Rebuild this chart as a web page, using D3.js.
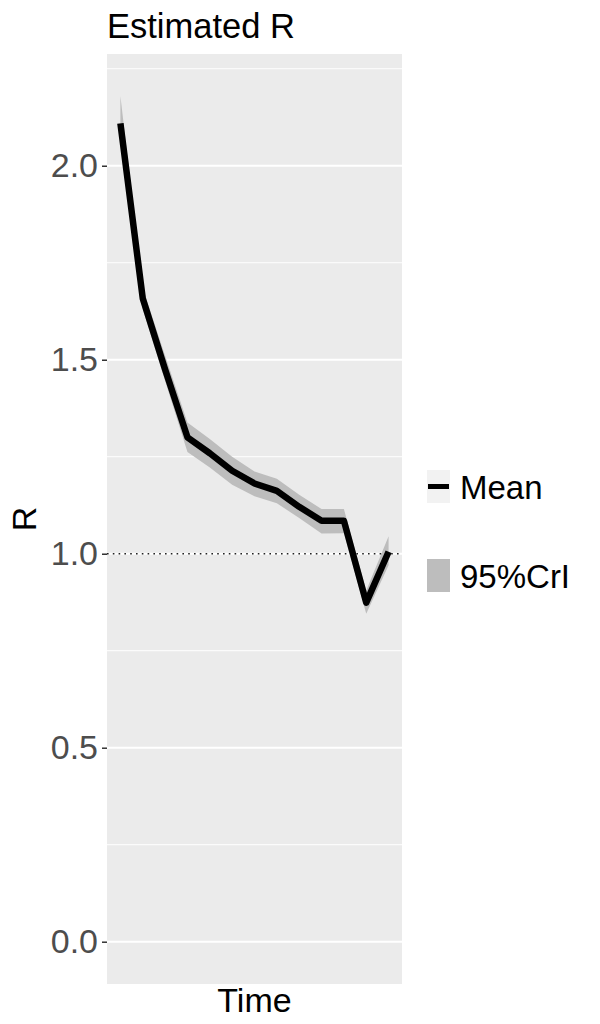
<!DOCTYPE html>
<html><head><meta charset="utf-8">
<script src="https://cdn.jsdelivr.net/npm/d3@7"></script>
<style>body{margin:0;background:#fff}</style>
</head><body>
<script>
const timeIndex = [0,1,2,3,4,5,6,7,8,9,10,11,12];
const meanR  = [2.109, 1.658, 1.475, 1.300, 1.259, 1.214, 1.181, 1.162, 1.121, 1.085, 1.085, 0.874, 1.005];
const lowerR = [2.060, 1.630, 1.445, 1.262, 1.222, 1.178, 1.148, 1.130, 1.092, 1.052, 1.053, 0.845, 0.970];
const upperR = [2.180, 1.685, 1.510, 1.338, 1.296, 1.250, 1.212, 1.193, 1.152, 1.115, 1.115, 0.905, 1.045];
const majorTicks = [0, 0.5, 1.0, 1.5, 2.0];
const minorTicks = [0.25, 0.75, 1.25, 1.75, 2.25];
const legendLabels = ["Mean", "95%CrI"];

const W = 600, H = 1024;
const panel = {left:107, right:402, top:54, bottom:984};
const svg = d3.select("body").append("svg").attr("width", W).attr("height", H)
  .style("font-family", "'Liberation Sans', Arial, sans-serif");

const x = d3.scaleLinear().domain([-0.6, 12.6]).range([panel.left, panel.right]);
const y = d3.scaleLinear().domain([-0.109, 2.288]).range([panel.bottom, panel.top]);

svg.append("rect").attr("x", panel.left).attr("y", panel.top)
  .attr("width", panel.right - panel.left).attr("height", panel.bottom - panel.top)
  .attr("fill", "#ebebeb");

svg.append("g").selectAll("line").data(minorTicks).join("line")
  .attr("x1", panel.left).attr("x2", panel.right)
  .attr("y1", d => y(d)).attr("y2", d => y(d))
  .attr("stroke", "#fff").attr("stroke-width", 1);
svg.append("g").selectAll("line").data(majorTicks).join("line")
  .attr("x1", panel.left).attr("x2", panel.right)
  .attr("y1", d => y(d)).attr("y2", d => y(d))
  .attr("stroke", "#fff").attr("stroke-width", 2);

const data = timeIndex.map((t, i) => ({t, m: meanR[i], lo: lowerR[i], hi: upperR[i]}));

svg.append("path").datum(data)
  .attr("d", d3.area().x(d => x(d.t)).y0(d => y(d.lo)).y1(d => y(d.hi)))
  .attr("fill", "#bdbdbd");

svg.append("line")
  .attr("x1", panel.left).attr("x2", panel.right)
  .attr("y1", y(1)).attr("y2", y(1))
  .attr("stroke", "#222").attr("stroke-width", 1.6).attr("stroke-dasharray", "1.6,4.2");

svg.append("path").datum(data)
  .attr("d", d3.line().x(d => x(d.t)).y(d => y(d.m)))
  .attr("fill", "none").attr("stroke", "#000").attr("stroke-width", 6.5)
  .attr("stroke-linejoin", "round");

// y axis
const yAxis = d3.axisLeft(y).tickValues(majorTicks).tickFormat(d3.format(".1f"))
  .tickSize(5).tickPadding(4);
const ga = svg.append("g").attr("transform", `translate(${panel.left},0)`).call(yAxis);
ga.select(".domain").remove();
ga.selectAll(".tick line").attr("stroke", "#333").attr("stroke-width", 1.5);
ga.selectAll(".tick text").attr("fill", "#4d4d4d").attr("font-size", 34)
  .attr("font-family", "'Liberation Sans', Arial, sans-serif");

// titles
svg.append("text").attr("x", panel.left).attr("y", 37.5)
  .attr("font-size", 34.5).attr("fill", "#000").text("Estimated R");
svg.append("text").attr("transform", `translate(36,${(panel.top+panel.bottom)/2}) rotate(-90)`)
  .attr("text-anchor", "middle").attr("font-size", 34).attr("fill", "#000").text("R");
svg.append("text").attr("x", (panel.left+panel.right)/2).attr("y", 1012)
  .attr("text-anchor", "middle").attr("font-size", 34).attr("fill", "#000").text("Time");

// legend
const lg = svg.append("g");
const keyY = [470, 559];
lg.append("rect").attr("x", 427).attr("y", keyY[0]).attr("width", 23).attr("height", 33).attr("fill", "#f2f2f2");
lg.append("line").attr("x1", 428).attr("x2", 449).attr("y1", keyY[0]+16.5).attr("y2", keyY[0]+16.5)
  .attr("stroke", "#000").attr("stroke-width", 5);
lg.append("rect").attr("x", 427).attr("y", keyY[1]).attr("width", 23).attr("height", 33).attr("fill", "#bdbdbd");
lg.selectAll("text.lab").data(legendLabels).join("text").attr("class", "lab")
  .attr("x", 460).attr("y", (d, i) => keyY[i] + 29)
  .attr("font-size", 33).attr("fill", "#000").text(d => d);
</script>
</body></html>
